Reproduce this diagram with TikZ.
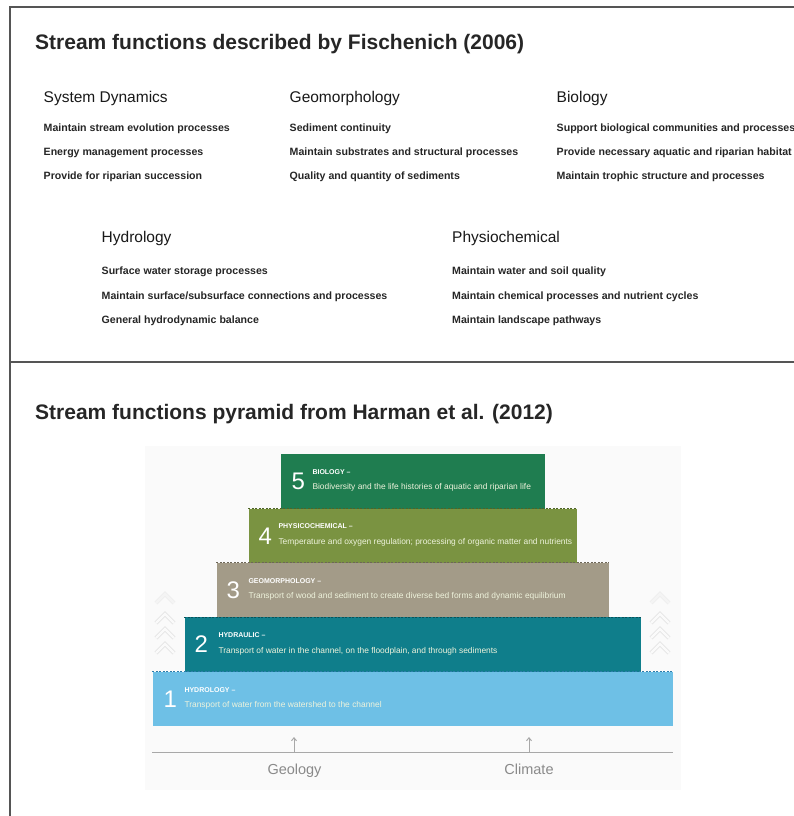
\documentclass[tikz,border=0pt]{standalone}
\usepackage{fontspec}
\setmainfont{Liberation Sans}
\usetikzlibrary{arrows.meta}
\definecolor{framecol}{HTML}{555555}
\definecolor{panelbg}{HTML}{FAFAFA}
\definecolor{chev}{HTML}{E4E4E4}
\definecolor{cbio}{HTML}{1F7D50}
\definecolor{cphy}{HTML}{7A9341}
\definecolor{cgeo}{HTML}{A39B88}
\definecolor{chyd}{HTML}{0F7E8B}
\definecolor{chyo}{HTML}{6EC0E6}
\definecolor{dphy}{HTML}{4E6427}
\definecolor{dgeo}{HTML}{6D6657}
\definecolor{dhyd}{HTML}{08535C}
\definecolor{dhyo}{HTML}{2D7DAA}
\definecolor{desccol}{HTML}{EEF3DC}
\definecolor{basecol}{HTML}{A8A8A8}
\definecolor{basetext}{HTML}{8A8A8A}
\begin{document}
\begin{tikzpicture}[x=1pt,y=-1pt,
  titletext/.style={anchor=base west, inner sep=0, font=\fontsize{21}{21}\selectfont\bfseries, text=black!85},
  headtext/.style={anchor=base west, inner sep=0, font=\fontsize{15.5}{15.5}\selectfont, text=black!90},
  itemtext/.style={anchor=base west, inner sep=0, font=\fontsize{10.6}{10.6}\selectfont\bfseries, text=black!85},
  tier/.style={anchor=north, inner sep=0, minimum height=54.4pt, draw=none},
  tiernum/.style={anchor=west, inner sep=0, font=\fontsize{24}{24}\selectfont, text=white},
  tierlab/.style={anchor=base west, inner sep=0, font=\fontsize{7}{7}\selectfont\bfseries, text=white},
  tierdesc/.style={anchor=base west, inner sep=0, font=\fontsize{8.4}{8.4}\selectfont, text=desccol},
  tieredge/.style={line width=1.1pt, dash pattern=on 2pt off 1.5pt},
  basetxt/.style={anchor=base, inner sep=0, font=\fontsize{14.5}{14.5}\selectfont, text=basetext},
  chevron/.style={draw=chev, double=panelbg, double distance=2.4pt, line width=0.9pt, line join=miter}
]
\useasboundingbox (0,0) rectangle (794,816);
\fill[white] (0,0) rectangle (794,816);

% frame and divider
\draw[framecol, line width=1.5pt] (794,7) -- (10,7) -- (10,816);
\draw[framecol, line width=1.5pt] (10,362) -- (794,362);

% ---- upper section: functions after Fischenich
\node[titletext] (t1) at (35,49.5) {Stream functions described by Fischenich (2006)};

\node[headtext] (hsd) at (43.5,102.5) {System Dynamics};
\node[itemtext] (sd1) at (43.5,131) {Maintain stream evolution processes};
\node[itemtext] (sd2) at (43.5,155) {Energy management processes};
\node[itemtext] (sd3) at (43.5,179) {Provide for riparian succession};

\node[headtext] (hgm) at (289.5,102.5) {Geomorphology};
\node[itemtext] (gm1) at (289.5,131) {Sediment continuity};
\node[itemtext] (gm2) at (289.5,155) {Maintain substrates and structural processes};
\node[itemtext] (gm3) at (289.5,179) {Quality and quantity of sediments};

\node[headtext] (hbi) at (556.5,102.5) {Biology};
\node[itemtext] (bi1) at (556.5,131) {Support biological communities and processes};
\node[itemtext] (bi2) at (556.5,155) {Provide necessary aquatic and riparian habitat};
\node[itemtext] (bi3) at (556.5,179) {Maintain trophic structure and processes};

\node[headtext] (hhy) at (101.5,242.5) {Hydrology};
\node[itemtext] (hy1) at (101.5,274) {Surface water storage processes};
\node[itemtext] (hy2) at (101.5,299) {Maintain surface/subsurface connections and processes};
\node[itemtext] (hy3) at (101.5,323) {General hydrodynamic balance};

\node[headtext] (hpc) at (452,242.5) {Physiochemical};
\node[itemtext] (pc1) at (452,274) {Maintain water and soil quality};
\node[itemtext] (pc2) at (452,299) {Maintain chemical processes and nutrient cycles};
\node[itemtext] (pc3) at (452,323) {Maintain landscape pathways};

% ---- lower section: pyramid after Harman et al.
\node[titletext] (t2) at (35,419) {Stream functions pyramid from Harman et al. (2012)};

\fill[panelbg] (145,446) rectangle (681,790);

% side chevrons
\foreach \cx in {165,660} {
  \draw[chevron, opacity=0.5] (\cx-9,603) -- (\cx,594) -- (\cx+9,603);
  \foreach \cy in {618,633,648}
    \draw[chevron] (\cx-9,\cy+5) -- (\cx,\cy-4) -- (\cx+9,\cy+5);
}

% tiers
\node[tier, fill=cbio, minimum width=264pt] (b5) at (412.5,454) {};
\node[tier, fill=cphy, minimum width=328pt] (b4) at (412.5,508.4) {};
\node[tier, fill=cgeo, minimum width=392pt] (b3) at (412.5,562.8) {};
\node[tier, fill=chyd, minimum width=456pt] (b2) at (412.5,617.2) {};
\node[tier, fill=chyo, minimum width=520pt] (b1) at (412.5,671.6) {};

\draw[tieredge, dphy] (b4.north west) -- (b4.north east);
\draw[tieredge, dgeo] (b3.north west) -- (b3.north east);
\draw[tieredge, dhyd] (b2.north west) -- (b2.north east);
\draw[tieredge, dhyo] (b1.north west) -- (b1.north east);

\node[tiernum] (n5) at ([xshift=11pt]b5.west) {5};
\node[tierlab] (l5) at ([xshift=32pt,yshift=7pt]b5.west) {BIOLOGY –};
\node[tierdesc] (d5) at ([xshift=32pt,yshift=-8.5pt]b5.west) {Biodiversity and the life histories of aquatic and riparian life};

\node[tiernum] (n4) at ([xshift=10pt]b4.west) {4};
\node[tierlab] (l4) at ([xshift=30pt,yshift=7pt]b4.west) {PHYSICOCHEMICAL –};
\node[tierdesc] (d4) at ([xshift=30pt,yshift=-8.5pt]b4.west) {Temperature and oxygen regulation; processing of organic matter and nutrients};

\node[tiernum] (n3) at ([xshift=10pt]b3.west) {3};
\node[tierlab] (l3) at ([xshift=32pt,yshift=7pt]b3.west) {GEOMORPHOLOGY –};
\node[tierdesc] (d3) at ([xshift=32pt,yshift=-8.5pt]b3.west) {Transport of wood and sediment to create diverse bed forms and dynamic equilibrium};

\node[tiernum] (n2) at ([xshift=10pt]b2.west) {2};
\node[tierlab] (l2) at ([xshift=34pt,yshift=7pt]b2.west) {HYDRAULIC –};
\node[tierdesc] (d2) at ([xshift=34pt,yshift=-8.5pt]b2.west) {Transport of water in the channel, on the floodplain, and through sediments};

\node[tiernum] (n1) at ([xshift=11pt]b1.west) {1};
\node[tierlab] (l1) at ([xshift=32pt,yshift=7pt]b1.west) {HYDROLOGY –};
\node[tierdesc] (d1) at ([xshift=32pt,yshift=-8.5pt]b1.west) {Transport of water from the watershed to the channel};

% base line with geology and climate drivers
\coordinate (bl) at (152,752);
\coordinate (br) at (673,752);
\draw[basecol, line width=1pt] (bl) -- (br);
\coordinate (geoFoot) at (294,752);
\coordinate (geoTip) at (294,737);
\coordinate (cliFoot) at (529,752);
\coordinate (cliTip) at (529,737);
\draw[basecol, line width=1pt, -{Straight Barb[length=3pt,width=5pt]}] (geoFoot) -- (geoTip);
\draw[basecol, line width=1pt, -{Straight Barb[length=3pt,width=5pt]}] (cliFoot) -- (cliTip);
\node[basetxt] (geo) at (294.5,774) {Geology};
\node[basetxt] (cli) at (529,774) {Climate};
\end{tikzpicture}
\end{document}
